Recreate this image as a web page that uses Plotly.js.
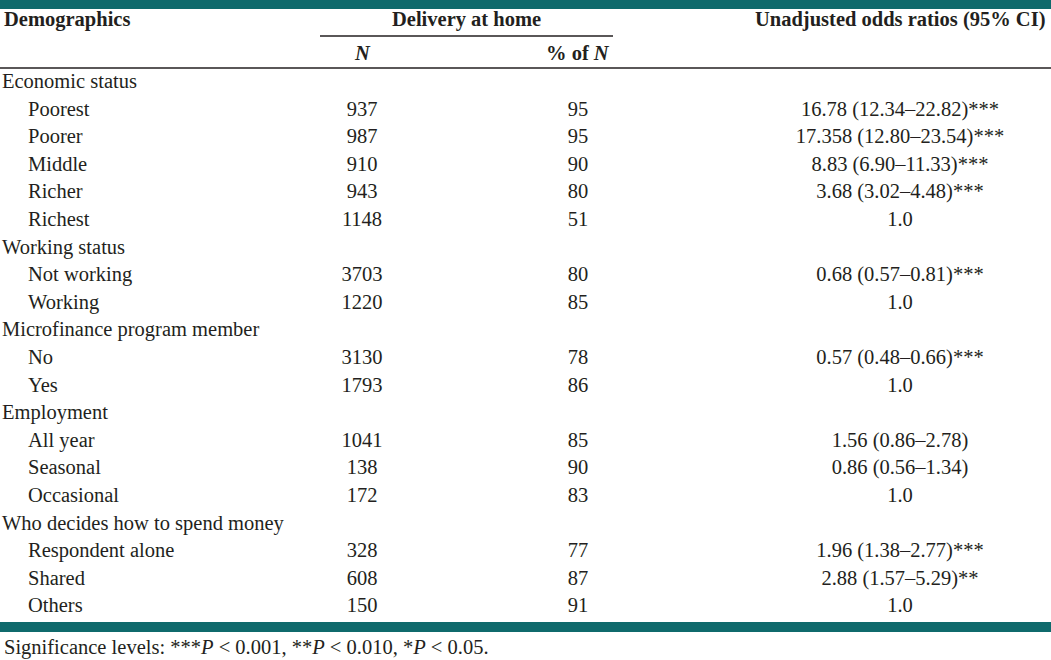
<!DOCTYPE html>
<html>
<head>
<meta charset="utf-8">
<script src="https://cdn.plot.ly/plotly-3.0.1.min.js"></script>
<style>
  html, body { margin: 0; padding: 0; background: #ffffff; }
  #chart { width: 1051px; height: 660px; }
</style>
</head>
<body>
<div id="chart"></div>
<script>
// ---------- DATA ----------
const groupNames = [
  'Economic status',
  'Working status',
  'Microfinance program member',
  'Employment',
  'Who decides how to spend money'
];
const itemLabels = [
  'Poorest', 'Poorer', 'Middle', 'Richer', 'Richest',
  'Not working', 'Working',
  'No', 'Yes',
  'All year', 'Seasonal', 'Occasional',
  'Respondent alone', 'Shared', 'Others'
];
const itemGroup = [0, 0, 0, 0, 0, 1, 1, 2, 2, 3, 3, 3, 4, 4, 4];
const deliveryN = [937, 987, 910, 943, 1148, 3703, 1220, 3130, 1793, 1041, 138, 172, 328, 608, 150];
const deliveryPct = [95, 95, 90, 80, 51, 80, 85, 78, 86, 85, 90, 83, 77, 87, 91];
const oddsRatio = ['16.78', '17.358', '8.83', '3.68', '1.0', '0.68', '1.0', '0.57', '1.0', '1.56', '0.86', '1.0', '1.96', '2.88', '1.0'];
const ciLow  = ['12.34', '12.80', '6.90', '3.02', null, '0.57', null, '0.48', null, '0.86', '0.56', null, '1.38', '1.57', null];
const ciHigh = ['22.82', '23.54', '11.33', '4.48', null, '0.81', null, '0.66', null, '2.78', '1.34', null, '2.77', '5.29', null];
const significance = ['***', '***', '***', '***', '', '***', '', '***', '', '', '', '', '***', '**', ''];
const headerLabels = ['Demographics', 'Delivery at home', 'Unadjusted odds ratios (95% CI)'];
const footnote = 'Significance levels: ***<i>P</i> < 0.001, **<i>P</i> < 0.010, *<i>P</i> < 0.05.';

// ---------- LAYOUT CONSTANTS ----------
const W = 1051, H = 660;
const FONT = 'Liberation Serif, Times New Roman, serif';
const FS = 20.5;
const INK = '#231f20';
const TEAL = '#0f6a6c';
const COLX = { group: 2, item: 28, n: 362, pct: 578, or: 900, span: 466 };
const BODY_TOP = 69, BODY_BOTTOM = 621;

const px = v => v / W;
const py = v => 1 - v / H;

// row order: group heading followed by its items
const rowOrder = [];
groupNames.forEach((g, gi) => {
  rowOrder.push(g);
  itemLabels.forEach((lab, i) => { if (itemGroup[i] === gi) rowOrder.push(lab); });
});

const orText = oddsRatio.map((v, i) =>
  ciLow[i] === null ? v : `${v} (${ciLow[i]}–${ciHigh[i]})${significance[i]}`);

function colTrace(axis, yvals, texts, pos) {
  return {
    type: 'scatter', mode: 'text',
    x: yvals.map(() => 'c'), y: yvals,
    text: texts, textposition: pos,
    textfont: { family: FONT, size: FS, color: INK },
    xaxis: axis, yaxis: 'y', cliponaxis: false,
    hoverinfo: 'skip', showlegend: false
  };
}

const traces = [
  colTrace('x', groupNames, groupNames, 'middle right'),
  colTrace('x2', itemLabels, itemLabels, 'middle right'),
  colTrace('x3', itemLabels, deliveryN.map(String), 'middle center'),
  colTrace('x4', itemLabels, deliveryPct.map(String), 'middle center'),
  colTrace('x5', itemLabels, orText, 'middle center')
];

function colAxis(c) {
  return {
    type: 'category', range: [-0.5, 0.5], domain: [px(c - 2), px(c + 2)],
    visible: false, showgrid: false, zeroline: false, fixedrange: true, anchor: 'y'
  };
}

const annFont = { family: FONT, size: FS, color: INK };
const layout = {
  width: W, height: H,
  margin: { l: 0, r: 0, t: 0, b: 0, pad: 0 },
  paper_bgcolor: '#ffffff', plot_bgcolor: 'rgba(0,0,0,0)',
  showlegend: false,
  xaxis: colAxis(COLX.group),
  xaxis2: colAxis(COLX.item),
  xaxis3: colAxis(COLX.n),
  xaxis4: colAxis(COLX.pct),
  xaxis5: colAxis(COLX.or),
  yaxis: {
    type: 'category', categoryorder: 'array', categoryarray: rowOrder,
    range: [rowOrder.length - 0.5, -0.5],
    domain: [py(BODY_BOTTOM), py(BODY_TOP)],
    visible: false, showgrid: false, zeroline: false, fixedrange: true
  },
  shapes: [
    { type: 'rect', xref: 'paper', yref: 'paper', x0: 0, x1: 1, y0: py(9), y1: 1,
      fillcolor: TEAL, line: { width: 0 } },
    { type: 'line', xref: 'paper', yref: 'paper', x0: px(320), x1: px(613), y0: py(36), y1: py(36),
      line: { color: INK, width: 1.5 } },
    { type: 'line', xref: 'paper', yref: 'paper', x0: 0, x1: 1, y0: py(68), y1: py(68),
      line: { color: INK, width: 1.5 } },
    { type: 'rect', xref: 'paper', yref: 'paper', x0: 0, x1: 1, y0: py(632), y1: py(622),
      fillcolor: TEAL, line: { width: 0 } }
  ],
  annotations: [
    { xref: 'paper', yref: 'paper', x: px(COLX.group), y: py(20), xanchor: 'left', yanchor: 'middle',
      text: `<b>${headerLabels[0]}</b>`, showarrow: false, font: annFont },
    { xref: 'paper', yref: 'paper', x: px(COLX.span), y: py(20), xanchor: 'center', yanchor: 'middle',
      text: `<b>${headerLabels[1]}</b>`, showarrow: false, font: annFont },
    { xref: 'paper', yref: 'paper', x: px(COLX.or), y: py(20), xanchor: 'center', yanchor: 'middle',
      text: `<b>${headerLabels[2]}</b>`, showarrow: false, font: annFont },
    { xref: 'paper', yref: 'paper', x: px(COLX.n), y: py(53), xanchor: 'center', yanchor: 'middle',
      text: '<b><i>N</i></b>', showarrow: false, font: annFont },
    { xref: 'paper', yref: 'paper', x: px(COLX.pct), y: py(53), xanchor: 'center', yanchor: 'middle',
      text: '<b>% of <i>N</i></b>', showarrow: false, font: annFont },
    { xref: 'paper', yref: 'paper', x: px(COLX.group), y: py(647), xanchor: 'left', yanchor: 'middle',
      text: footnote, showarrow: false, font: annFont }
  ]
};

Plotly.newPlot('chart', traces, layout, { displayModeBar: false, staticPlot: true });
</script>
</body>
</html>
